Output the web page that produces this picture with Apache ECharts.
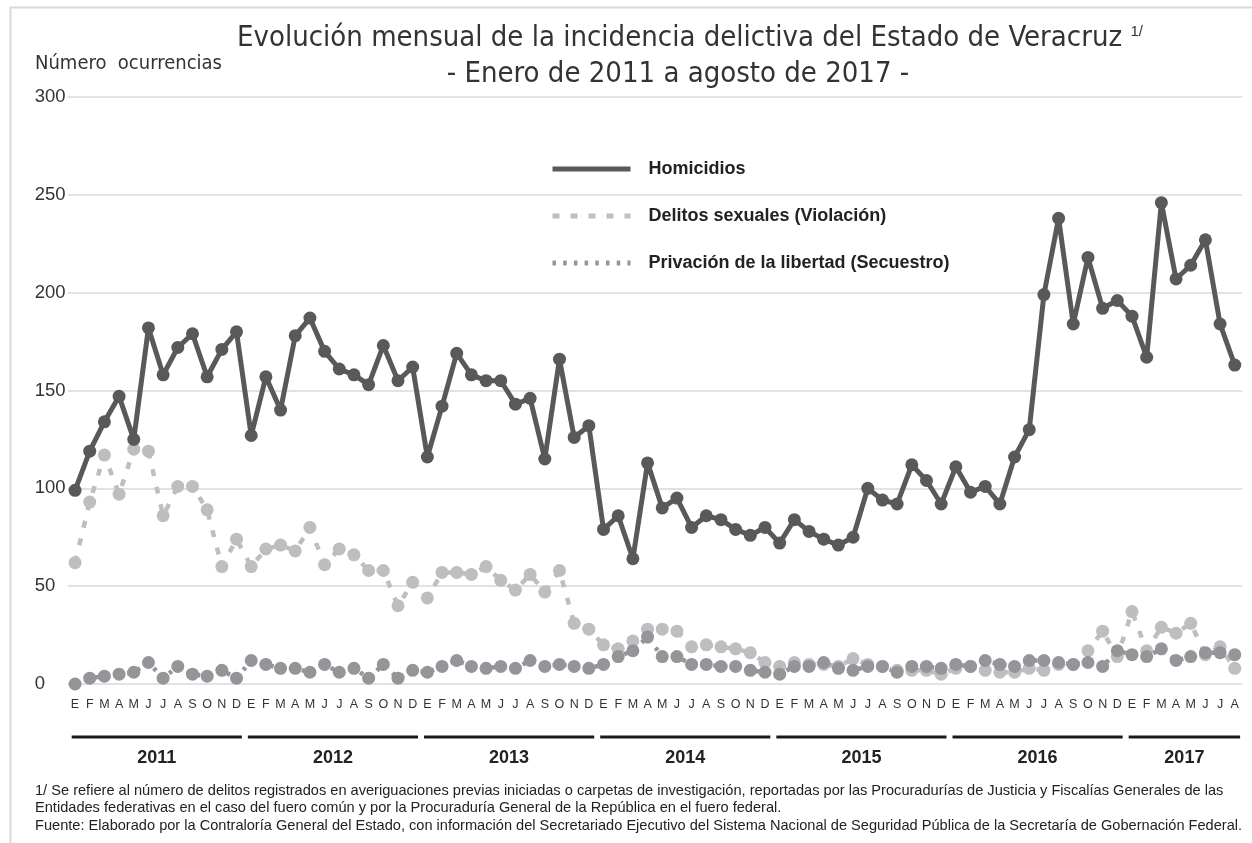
<!DOCTYPE html>
<html>
<head>
<meta charset="utf-8">
<script src="https://cdn.jsdelivr.net/npm/echarts@6/dist/echarts.min.js"></script>
<style>
  html, body { margin: 0; padding: 0; background: #fff; }
  #chart { width: 1252px; height: 843px; }
</style>
</head>
<body>
<div id="chart"></div>
<script>
// === datos ===
const years = ['2011', '2012', '2013', '2014', '2015', '2016', '2017']
const monthsPerYear = [12, 12, 12, 12, 12, 12, 8]
const monthLetters = ['E', 'F', 'M', 'A', 'M', 'J', 'J', 'A', 'S', 'O', 'N', 'D']
const yTicks = [0, 50, 100, 150, 200, 250, 300]

const homicidios = [
  99, 119, 134, 147, 125, 182, 158, 172, 179, 157, 171, 180,
  127, 157, 140, 178, 187, 170, 161, 158, 153, 173, 155, 162,
  116, 142, 169, 158, 155, 155, 143, 146, 115, 166, 126, 132,
  79, 86, 64, 113, 90, 95, 80, 86, 84, 79, 76, 80,
  72, 84, 78, 74, 71, 75, 100, 94, 92, 112, 104, 92,
  111, 98, 101, 92, 116, 130, 199, 238, 184, 218, 192, 196,
  188, 167, 246, 207, 214, 227, 184, 163
]
const violacion = [
  62, 93, 117, 97, 120, 119, 86, 101, 101, 89, 60, 74,
  60, 69, 71, 68, 80, 61, 69, 66, 58, 58, 40, 52,
  44, 57, 57, 56, 60, 53, 48, 56, 47, 58, 31, 28,
  20, 18, 22, 28, 28, 27, 19, 20, 19, 18, 16, 11,
  9, 11, 10, 10, 9, 13, 10, 9, 7, 7, 7, 5,
  8, 9, 7, 6, 6, 8, 7, 10, 10, 17, 27, 14,
  37, 17, 29, 26, 31, 15, 19, 8
]
const secuestro = [
  0, 3, 4, 5, 6, 11, 3, 9, 5, 4, 7, 3,
  12, 10, 8, 8, 6, 10, 6, 8, 3, 10, 3, 7,
  6, 9, 12, 9, 8, 9, 8, 12, 9, 10, 9, 8,
  10, 14, 17, 24, 14, 14, 10, 10, 9, 9, 7, 6,
  5, 9, 9, 11, 8, 7, 9, 9, 6, 9, 9, 8,
  10, 9, 12, 10, 9, 12, 12, 11, 10, 11, 9, 17,
  15, 14, 18, 12, 14, 16, 16, 15
]

// categorías mensuales y tramos por año
const categories = []
const yearSpans = []
years.forEach((y, i) => {
  const start = categories.length
  for (let m = 0; m < monthsPerYear[i]; m++) categories.push(monthLetters[m])
  yearSpans.push([start, categories.length - 1, 0])
})

const narrow = "'Liberation Sans Narrow', 'DejaVu Sans Condensed', sans-serif"
const sans = "'Liberation Sans', Arial, sans-serif"

const C_HOM = '#58595b'
const C_VIO = '#bcbec0'
const C_SEC = '#939598'

const chart = echarts.init(document.getElementById('chart'))

const option = {
  backgroundColor: '#fff',
  animation: false,
  title: [
    {
      text: 'Evolución mensual de la incidencia delictiva del Estado de Veracruz {s|1/}',
      left: 690, top: 24, textAlign: 'center', padding: 0,
      textStyle: {
        fontFamily: narrow, fontSize: 29, fontWeight: 'normal', color: '#333',
        rich: { s: { fontFamily: sans, fontSize: 15, color: '#333', verticalAlign: 'top', padding: [0, 0, 14, 0] } }
      }
    },
    {
      text: '- Enero de 2011 a agosto de 2017 -',
      left: 678, top: 60, textAlign: 'center', padding: 0,
      textStyle: { fontFamily: narrow, fontSize: 29, fontWeight: 'normal', color: '#333' }
    },
    {
      text: 'Número  ocurrencias',
      left: 35, top: 54, padding: 0,
      textStyle: { fontFamily: narrow, fontSize: 20, fontWeight: 'normal', color: '#333' }
    },
    {
      text: '1/ Se refiere al número de delitos registrados en averiguaciones previas iniciadas o carpetas de investigación, reportadas por las Procuradurías de Justicia y Fiscalías Generales de las\nEntidades federativas en el caso del fuero común y por la Procuraduría General de la República en el fuero federal.\nFuente: Elaborado por la Contraloría General del Estado, con información del Secretariado Ejecutivo del Sistema Nacional de Seguridad Pública de la Secretaría de Gobernación Federal.',
      left: 35, top: 782, padding: 0,
      textStyle: { fontFamily: sans, fontSize: 14.6, lineHeight: 17.5, fontWeight: 'normal', color: '#222' }
    }
  ],
  graphic: [
    {
      type: 'rect', left: 8, top: 5, silent: true,
      shape: { width: 1260, height: 860 },
      style: { fill: 'none', stroke: '#d9d9d9', lineWidth: 2 }
    }
  ],
  legend: {
    orient: 'vertical',
    left: 550, top: 160, padding: 0,
    itemWidth: 78, itemHeight: 14, itemGap: 29,
    data: ['Homicidios', 'Delitos sexuales (Violación)', 'Privación de la libertad (Secuestro)'],
    itemStyle: { opacity: 0 },
    lineStyle: { width: 5 },
    textStyle: { fontFamily: sans, fontSize: 18, fontWeight: 'bold', color: '#222', padding: [0, 0, 0, 13] },
    selectedMode: false
  },
  grid: { left: 67.7, right: 9.9, top: 97, bottom: 159 },
  xAxis: {
    type: 'category',
    data: categories,
    boundaryGap: true,
    axisLine: { show: false },
    axisTick: { show: false },
    axisLabel: { interval: 0, margin: 14, fontFamily: sans, fontSize: 12.5, color: '#333' }
  },
  yAxis: {
    type: 'value',
    min: yTicks[0], max: yTicks[yTicks.length - 1], interval: 50,
    axisLine: { show: false },
    axisTick: { show: false },
    axisLabel: { align: 'left', margin: 33, fontFamily: sans, fontSize: 18.5, color: '#333' },
    splitLine: { lineStyle: { color: '#d9d9d9', width: 1.5 } }
  },
  series: [
    {
      name: 'Delitos sexuales (Violación)',
      type: 'line',
      data: violacion,
      symbol: 'circle', symbolSize: 13,
      itemStyle: { color: C_VIO },
      lineStyle: { color: C_VIO, width: 4.5, type: [7, 11] }
    },
    {
      name: 'Privación de la libertad (Secuestro)',
      type: 'line',
      data: secuestro,
      symbol: 'circle', symbolSize: 13,
      itemStyle: { color: C_SEC },
      lineStyle: { color: C_SEC, width: 4.5, type: [3.5, 7.2] }
    },
    {
      name: 'Homicidios',
      type: 'line',
      data: homicidios,
      symbol: 'circle', symbolSize: 13,
      itemStyle: { color: C_HOM },
      lineStyle: { color: C_HOM, width: 5 }
    },
    {
      // barras y etiquetas de año debajo de los meses
      name: 'años',
      type: 'custom',
      silent: true,
      clip: false,
      data: yearSpans,
      encode: { x: [0, 1], y: 2 },
      renderItem: (params, api) => {
        const p0 = api.coord([api.value(0), 0])
        const p1 = api.coord([api.value(1), 0])
        const bw = api.size([1, 0])[0]
        const x0 = p0[0] - bw / 2 + 4
        const x1 = p1[0] + bw / 2 - 2
        const y = p0[1] + 53
        return {
          type: 'group',
          children: [
            { type: 'line', shape: { x1: x0, y1: y, x2: x1, y2: y }, style: { stroke: '#1a1a1a', lineWidth: 3 } },
            {
              type: 'text',
              style: {
                x: (x0 + x1) / 2, y: y + 21,
                text: years[params.dataIndex],
                align: 'center', verticalAlign: 'middle',
                font: "bold 18px 'Liberation Sans', Arial, sans-serif",
                fill: '#222'
              }
            }
          ]
        }
      }
    }
  ]
}

chart.setOption(option)
</script>
</body>
</html>
